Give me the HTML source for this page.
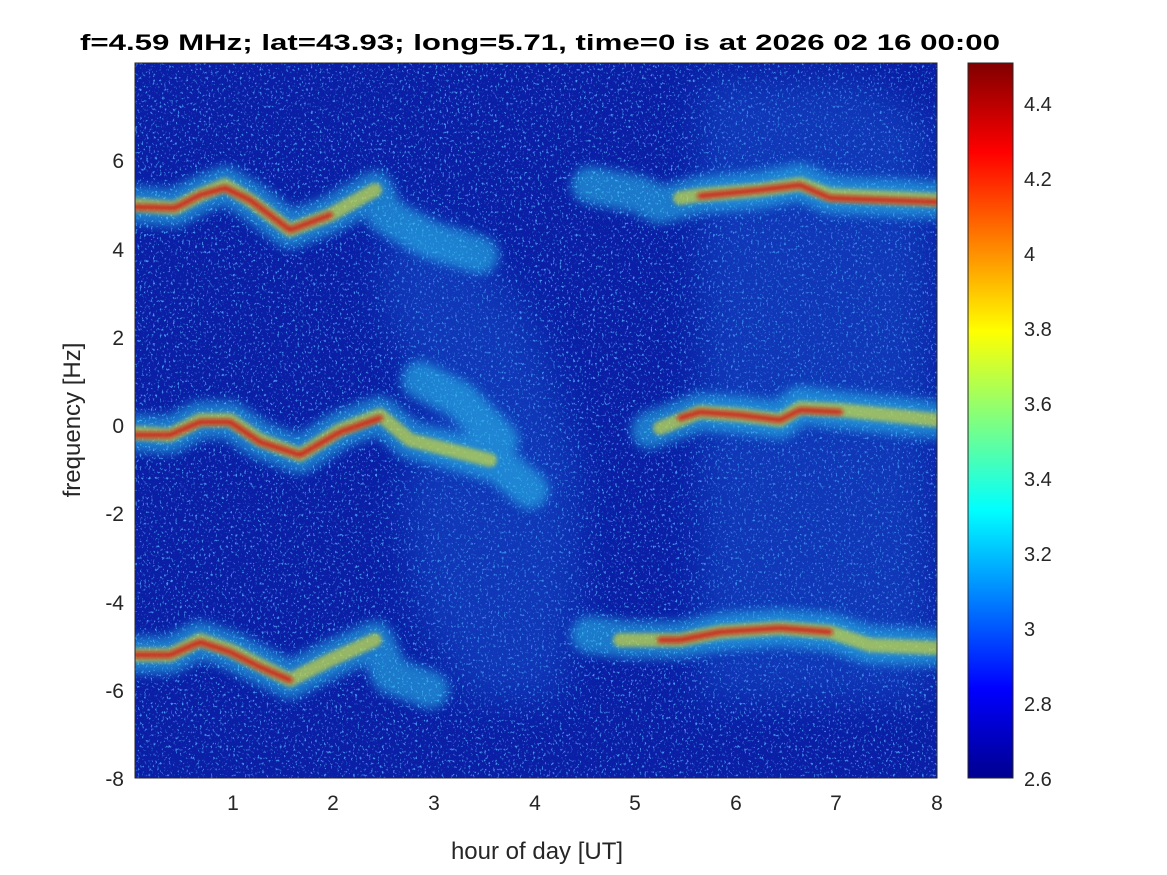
<!DOCTYPE html>
<html><head><style>body{margin:0;background:#fff}svg{display:block}</style></head><body>
<svg width="1167" height="875" viewBox="0 0 1167 875" xmlns="http://www.w3.org/2000/svg" font-family="Liberation Sans, sans-serif">
<defs>
<filter id="spk" x="0" y="0" width="100%" height="100%">
<feTurbulence type="fractalNoise" baseFrequency="0.45 0.35" numOctaves="2" seed="3"/>
<feColorMatrix type="matrix" values="0 0 0 0 0.1  0 0 0 0 0.45  0 0 0 0 1  0 0 0 6 -3.6"/>
</filter>
<filter id="bl" x="-10%" y="-50%" width="120%" height="200%"><feGaussianBlur stdDeviation="5"/></filter>
<filter id="bl2" x="-10%" y="-50%" width="120%" height="200%"><feGaussianBlur stdDeviation="2"/></filter>
<filter id="bl3" x="-20%" y="-20%" width="140%" height="140%"><feGaussianBlur stdDeviation="18"/></filter>
<linearGradient id="jet" x1="0" y1="1" x2="0" y2="0">
<stop offset="0" stop-color="#00008f"/><stop offset="0.125" stop-color="#0000ff"/>
<stop offset="0.375" stop-color="#00ffff"/><stop offset="0.625" stop-color="#ffff00"/>
<stop offset="0.875" stop-color="#ff0000"/><stop offset="1" stop-color="#800000"/>
</linearGradient>
<clipPath id="pc"><rect x="135" y="63" width="802" height="715"/></clipPath>
</defs>
<text x="540" y="50" font-size="22" font-weight="bold" text-anchor="middle" textLength="920" lengthAdjust="spacingAndGlyphs">f=4.59 MHz;  lat=43.93; long=5.71, time=0 is at 2026 02 16 00:00</text>
<g clip-path="url(#pc)">
<rect x="135" y="63" width="802" height="715" fill="#0a1fa6"/>
<rect x="135" y="63" width="802" height="715" filter="url(#spk)" opacity="0.8"/>
<g filter="url(#bl3)" fill="#1e6fe0" opacity="0.3">
<polygon points="390,200 470,240 540,330 580,470 580,600 560,700 470,700 420,620 400,500 430,420 380,300"/>
<polygon points="700,80 860,80 930,120 930,700 700,700"/>
</g>
<g fill="none" stroke-linejoin="round" stroke-linecap="round">
<g stroke="#2fd0f0" stroke-width="38" opacity="0.5" filter="url(#bl)">
<polyline points="135,205 175,208 200,195 225,185 250,200 290,230 330,215 375,190 385,215 430,240 480,255"/>
<polyline points="590,185 640,195 660,205 700,195 760,190 800,182 830,195 937,200"/>
<polyline points="135,433 170,435 200,420 230,420 260,440 300,455 340,430 380,415 410,440 450,450 500,465 530,490"/>
<polyline points="420,380 460,400 500,440"/>
<polyline points="650,430 700,412 740,415 780,420 800,405 840,410 937,420"/>
<polyline points="135,655 170,655 200,640 230,650 260,665 290,680 330,660 375,640 390,675 430,690"/>
<polyline points="590,635 630,640 680,640 720,632 780,628 830,632 870,645 937,648"/>
</g>
<g stroke="#e8e020" stroke-width="14" opacity="0.6" filter="url(#bl2)">
<polyline points="135,205 175,208 200,195 225,185 250,200 290,230 330,215 375,190"/>
<polyline points="680,198 700,195 760,190 800,184 830,195 937,200"/>
<polyline points="135,433 170,435 200,420 230,420 260,440 300,455 340,430 380,415 410,440 450,450 490,460"/>
<polyline points="660,428 700,412 740,415 780,420 800,408 840,410 937,420"/>
<polyline points="135,655 170,655 200,640 230,650 260,665 290,680 330,660 375,640"/>
<polyline points="620,640 680,640 720,632 780,628 830,632 870,645 937,648"/>
</g>
<g stroke="#d81010" stroke-width="6" opacity="0.85" filter="url(#bl2)">
<polyline points="135,207 175,208 200,195 225,188 250,200 290,230 330,215"/>
<polyline points="700,196 760,190 800,185 830,198 937,202"/>
<polyline points="135,435 170,435 200,422 230,422 260,442 300,455 340,432 380,418"/>
<polyline points="680,418 700,412 740,415 780,420 800,410 840,412"/>
<polyline points="135,655 170,655 200,642 230,652 260,667 290,680"/>
<polyline points="660,640 680,640 720,632 780,628 830,632"/>
</g>
</g>
</g>
<rect x="135" y="63" width="802" height="715" fill="none" stroke="#262626" stroke-width="1"/>
<g font-size="21" fill="#262626">
<g text-anchor="middle">
<text x="233" y="810">1</text><text x="333" y="810">2</text><text x="434" y="810">3</text><text x="535" y="810">4</text>
<text x="635" y="810">5</text><text x="736" y="810">6</text><text x="836" y="810">7</text><text x="937" y="810">8</text>
</g>
<g text-anchor="end">
<text x="124" y="168">6</text><text x="124" y="257">4</text><text x="124" y="345">2</text><text x="124" y="433">0</text>
<text x="124" y="521">-2</text><text x="124" y="610">-4</text><text x="124" y="698">-6</text><text x="124" y="786">-8</text>
</g>
<text x="537" y="859" font-size="24" text-anchor="middle">hour of day [UT]</text>
<text transform="translate(80,420) rotate(-90)" font-size="24" text-anchor="middle">frequency [Hz]</text>
</g>
<rect x="968" y="63" width="45" height="715" fill="url(#jet)" stroke="#262626" stroke-width="1"/>
<g font-size="20" fill="#262626">
<text x="1024" y="786">2.6</text><text x="1024" y="711">2.8</text><text x="1024" y="636">3</text>
<text x="1024" y="561">3.2</text><text x="1024" y="486">3.4</text><text x="1024" y="411">3.6</text>
<text x="1024" y="336">3.8</text><text x="1024" y="261">4</text><text x="1024" y="186">4.2</text><text x="1024" y="111">4.4</text>
</g>
</svg>
</body></html>
